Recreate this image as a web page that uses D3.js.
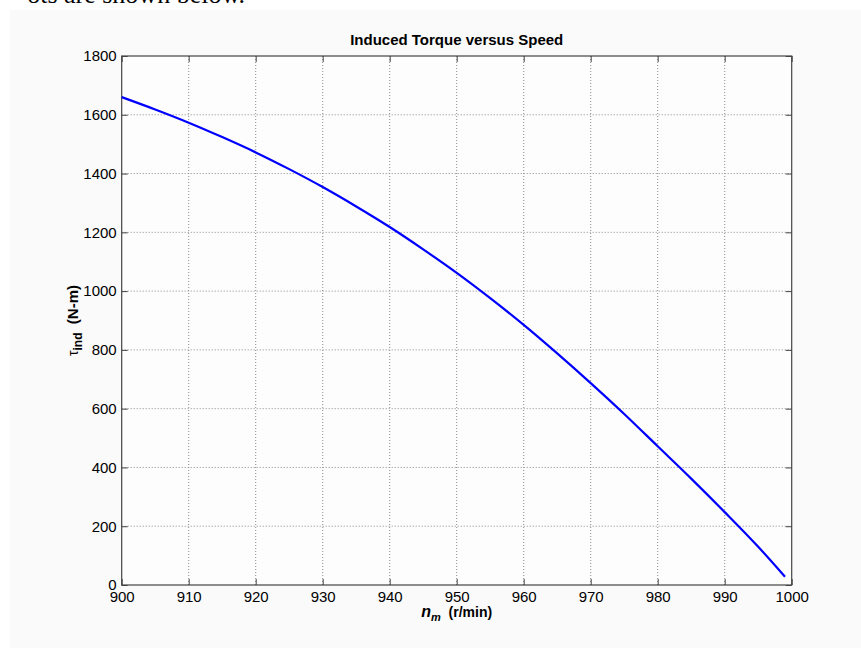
<!DOCTYPE html>
<html>
<head>
<meta charset="utf-8">
<script src="https://cdn.jsdelivr.net/npm/d3@7"></script>
<style>
  html, body { margin: 0; padding: 0; background: #ffffff; }
  svg { display: block; }
</style>
</head>
<body>
<svg id="chart" width="861" height="648"></svg>
<script>
// ---- data ----
const speed = [900, 905, 910, 915, 920, 925, 930, 935, 940, 945, 950, 955, 960, 965, 970, 975, 980, 985, 990, 995, 999];
const torque = [1660, 1618, 1573, 1524, 1472, 1415, 1354, 1288, 1218, 1142, 1062, 976, 885, 788, 687, 582, 472, 362, 248, 130, 28];
const xTicks = [900, 910, 920, 930, 940, 950, 960, 970, 980, 990, 1000];
const yTicks = [0, 200, 400, 600, 800, 1000, 1200, 1400, 1600, 1800];
const titleText = "Induced Torque versus Speed";

const svg = d3.select("#chart");
const W = 861, H = 648;

// page background / figure background
svg.append("rect").attr("x", 0).attr("y", 0).attr("width", W).attr("height", H).attr("fill", "#ffffff");
svg.append("rect").attr("x", 10).attr("y", 10).attr("width", W - 10).attr("height", H - 10).attr("fill", "#fafafa");

// cut-off page text above the figure
svg.append("text")
  .attr("x", 245).attr("y", 3)
  .attr("text-anchor", "end")
  .attr("font-family", "'Liberation Serif', 'Times New Roman', serif")
  .attr("font-size", 26)
  .attr("fill", "#000")
  .text("ots are shown below.");

const L = 121.7, R = 791.7, T = 56, B = 585;
const x = d3.scaleLinear().domain([900, 1000]).range([L, R]);
const y = d3.scaleLinear().domain([0, 1800]).range([B, T]);

const font = "'Liberation Sans', Arial, Helvetica, sans-serif";
const fmt = d3.format("d");

// axes area background
svg.append("rect").attr("x", L).attr("y", T).attr("width", R - L).attr("height", B - T).attr("fill", "#fdfdfd");

// grid
const grid = svg.append("g");
grid.selectAll("line.vx").data(xTicks.slice(1, -1)).enter().append("line")
  .attr("x1", d => x(d)).attr("x2", d => x(d)).attr("y1", T).attr("y2", B)
  .attr("stroke", "#8a8a8a").attr("stroke-width", 1).attr("stroke-dasharray", "1,2");
grid.selectAll("line.hy").data(yTicks.slice(1, -1)).enter().append("line")
  .attr("y1", d => y(d)).attr("y2", d => y(d)).attr("x1", L).attr("x2", R)
  .attr("stroke", "#8a8a8a").attr("stroke-width", 1).attr("stroke-dasharray", "1,2");

// axes with inward ticks using d3 axes
const tickLen = 6;
const axB = svg.append("g").attr("transform", `translate(0,${B})`)
  .call(d3.axisBottom(x).tickValues(xTicks).tickSizeInner(-tickLen).tickSizeOuter(0).tickPadding(6).tickFormat(fmt));
const axT = svg.append("g").attr("transform", `translate(0,${T})`)
  .call(d3.axisTop(x).tickValues(xTicks).tickSizeInner(-tickLen).tickSizeOuter(0).tickFormat(""));
const axLft = svg.append("g").attr("transform", `translate(${L},0)`)
  .call(d3.axisLeft(y).tickValues(yTicks).tickSizeInner(-tickLen).tickSizeOuter(0).tickPadding(5).tickFormat(fmt));
const axRt = svg.append("g").attr("transform", `translate(${R},0)`)
  .call(d3.axisRight(y).tickValues(yTicks).tickSizeInner(-tickLen).tickSizeOuter(0).tickFormat(""));

[axB, axT, axLft, axRt].forEach(a => {
  a.select(".domain").remove();
  a.attr("font-family", null).attr("font-size", null);
  a.selectAll(".tick line").attr("stroke", "#444").attr("stroke-width", 1);
  a.selectAll("text").attr("font-family", font).attr("font-size", 15).attr("fill", "#000");
});
axB.selectAll("text").attr("dy", "0.71em");

// box
svg.append("rect").attr("x", L).attr("y", T).attr("width", R - L).attr("height", B - T)
  .attr("fill", "none").attr("stroke", "#444").attr("stroke-width", 1.2);

// curve
const line = d3.line().x((d, i) => x(speed[i])).y(d => y(d)).curve(d3.curveMonotoneX);
svg.append("path").datum(torque)
  .attr("d", line)
  .attr("fill", "none").attr("stroke", "#0000ff").attr("stroke-width", 2.2)
  .attr("stroke-linejoin", "round");

// title
svg.append("text")
  .attr("x", (L + R) / 2).attr("y", 45)
  .attr("text-anchor", "middle")
  .attr("font-family", font).attr("font-weight", "bold").attr("font-size", 15)
  .attr("fill", "#000")
  .text(titleText);

// x label
const xl = svg.append("text")
  .attr("x", (L + R) / 2).attr("y", 617)
  .attr("text-anchor", "middle")
  .attr("font-family", font).attr("font-weight", "bold").attr("font-size", 14)
  .attr("fill", "#000");
xl.append("tspan").attr("font-style", "italic").attr("font-size", 16).text("n");
xl.append("tspan").attr("font-style", "italic").attr("font-size", 11).attr("dy", 4).text("m");
xl.append("tspan").attr("dy", -4).text("\u00a0\u00a0(r/min)");

// y label
const yl = svg.append("text")
  .attr("transform", `translate(78,${(T + B) / 2}) rotate(-90)`)
  .attr("text-anchor", "middle")
  .attr("font-family", font).attr("font-weight", "bold").attr("font-size", 15)
  .attr("fill", "#000");
yl.append("tspan").attr("font-size", 14).attr("font-weight", "normal").text("\u03c4");
yl.append("tspan").attr("font-size", 12).attr("dy", 4).text("ind");
yl.append("tspan").attr("dy", -4).text("\u00a0\u00a0(N-m)");
</script>
</body>
</html>
